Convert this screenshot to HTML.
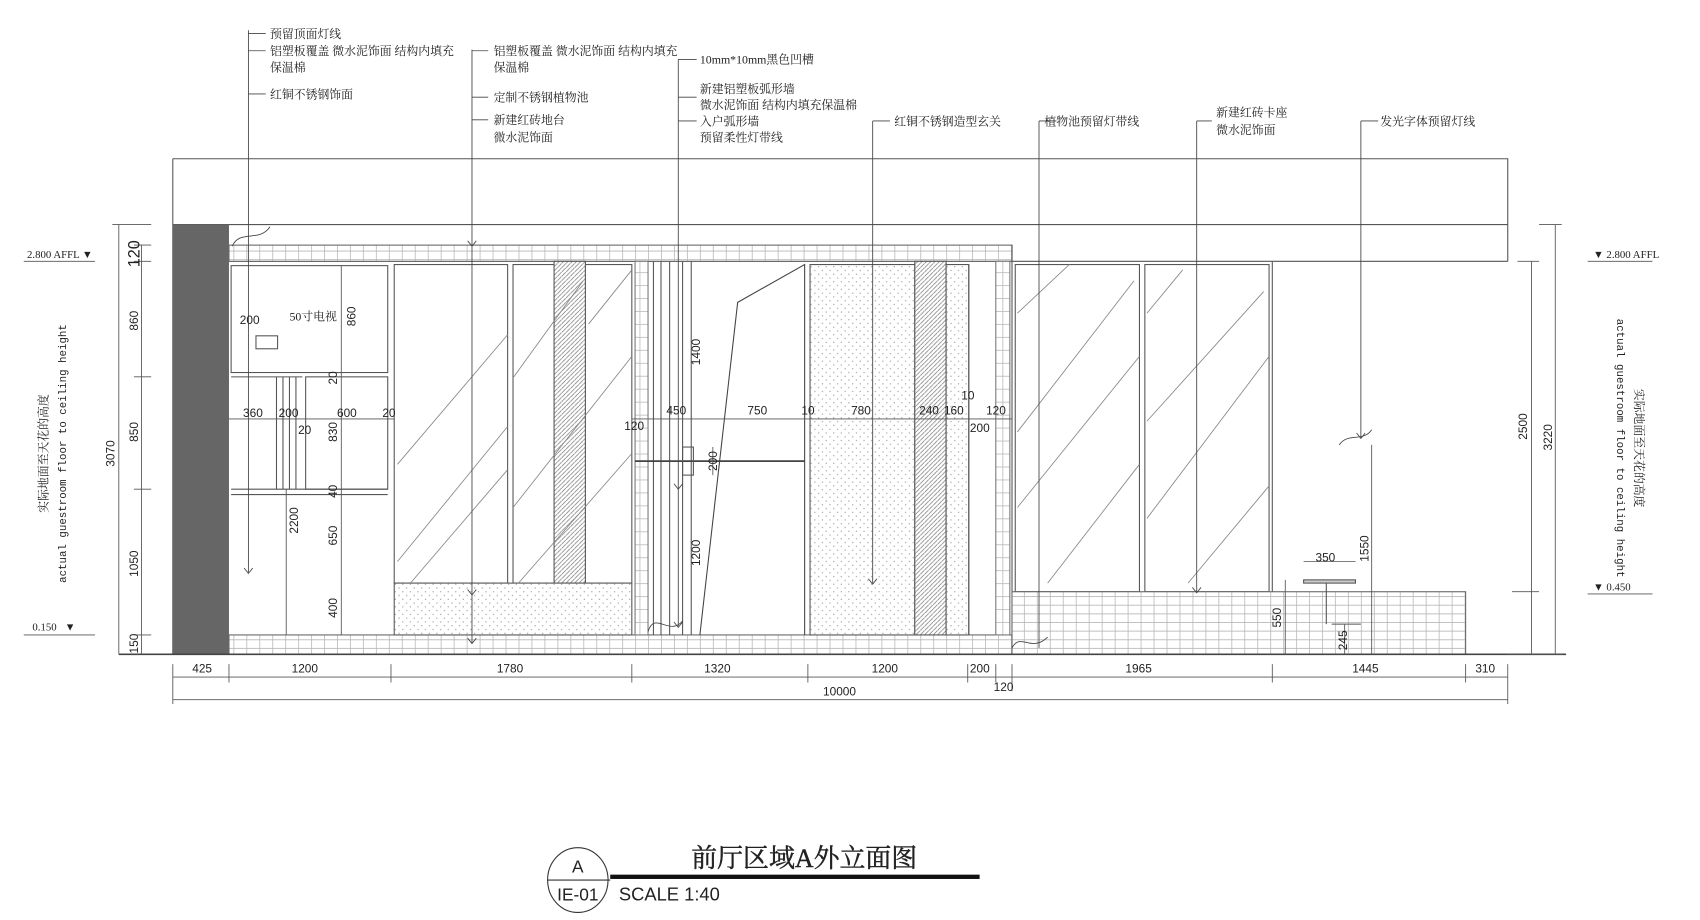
<!DOCTYPE html>
<html><head><meta charset="utf-8"><style>
html,body{margin:0;padding:0;background:#fff;width:1700px;height:920px;overflow:hidden}
svg{display:block}
.t{font-family:"Liberation Serif","Noto Serif CJK SC","Noto Sans CJK SC",serif;font-size:11px;fill:#222}
.d{font-family:"Liberation Sans","DejaVu Sans",sans-serif;font-size:11px;fill:#222}
</style></head><body>
<svg width="1700" height="920" viewBox="0 0 1574 852" preserveAspectRatio="none" xmlns="http://www.w3.org/2000/svg">
<defs>
<pattern id="brick" width="12" height="8" patternUnits="userSpaceOnUse"><rect width="12" height="8" fill="#fff"/><path d="M0 0.5H12M0.5 0V8" stroke="#b5b5b5" stroke-width="0.7" fill="none"/></pattern>
<pattern id="brickv" width="8" height="12" patternUnits="userSpaceOnUse"><rect width="8" height="12" fill="#fff"/><path d="M0 0.5H8M0.5 0V12" stroke="#b5b5b5" stroke-width="0.7" fill="none"/></pattern>
<pattern id="dots" width="7" height="7" patternUnits="userSpaceOnUse"><rect width="7" height="7" fill="#fff"/><circle cx="2" cy="2" r="0.6" fill="#999"/><circle cx="5.5" cy="5.5" r="0.6" fill="#999"/></pattern>
<pattern id="hatch" width="4" height="4" patternUnits="userSpaceOnUse"><rect width="4" height="4" fill="#fff"/><path d="M0 4L4 0" stroke="#777" stroke-width="0.7"/></pattern>
</defs>
<g stroke="#555" stroke-width="1" fill="none">
<path d="M160 147H1396V242M160 147V606M160 208H1396M212 242H1396"/>
</g>
<rect x="160" y="208" width="52" height="398" fill="#666"/>
<rect x="212" y="227" width="725" height="15" fill="url(#brick)" stroke="#666"/>
<rect x="212" y="588" width="725" height="18" fill="url(#brick)" stroke="#666"/>
<g stroke="#555" fill="none" stroke-width="1">
<rect x="214" y="246" width="145" height="99"/>
<rect x="283" y="349" width="76" height="104"/>
<path d="M214 349H280M256 349V453M262 349V453M268 349V453M274 349V453M214 453H359M214 458H359"/>
<rect x="237" y="311" width="20" height="12"/>
<rect x="365" y="245" width="105" height="295"/>
<rect x="475" y="245" width="110" height="295"/>
</g>
<rect x="513" y="242" width="29" height="298" fill="url(#hatch)" stroke="#555"/>
<rect x="365" y="540" width="220" height="48" fill="url(#dots)" stroke="#555"/>
<g stroke="#888" stroke-width="0.8">
<path d="M368 430L470 310M368 520L470 395M380 540L470 435M475 350L540 260M475 470L585 330M480 540L585 420M545 300L585 250"/>
</g>
<rect x="588" y="242" width="12" height="346" fill="url(#brickv)" stroke="#777"/>
<g stroke="#555" fill="none">
<path d="M605 242V588M612 242V588M620 242V588M632 242V588M640 242V588"/>
<path d="M648 588L683 280L745 245V588" stroke="#444"/>
<path d="M588 427H745" stroke="#444" stroke-width="1.6"/>
<rect x="632" y="414" width="10" height="26"/>
</g>
<rect x="750" y="245" width="97" height="343" fill="url(#dots)" stroke="#555"/>
<rect x="847" y="242" width="29" height="346" fill="url(#hatch)" stroke="#555"/>
<rect x="876" y="245" width="21" height="343" fill="url(#dots)" stroke="#555"/>
<rect x="922" y="242" width="13" height="346" fill="url(#brickv)" stroke="#777"/>
<path d="M897 245V588M937 227V606" stroke="#555"/>
<g stroke="#555" fill="none">
<rect x="940" y="245" width="115" height="303"/>
<rect x="1060" y="245" width="115" height="303"/>
<path d="M1178 242V606"/>
</g>
<g stroke="#888" stroke-width="0.8">
<path d="M942 290L990 245M942 400L1050 260M970 540L1055 430M942 470L1055 330M1062 390L1170 270M1062 480L1175 330M1100 540L1175 450M1062 290L1095 250"/>
</g>
<rect x="937" y="548" width="420" height="58" fill="url(#brick)" stroke="#666"/>
<rect x="1207" y="537" width="48" height="3" fill="#ccc" stroke="#555"/>
<path d="M1228 540V578M1233 578H1260" stroke="#555"/>
<path d="M110 606H1450" stroke="#444" stroke-width="1.5"/>
<g stroke="#444" fill="none" stroke-width="0.8">
<path d="M230 28V530M230 31H246M230 47H246M230 87H246"/>
<path d="M437 46V595M437 47H452M437 90H452M437 111H452"/>
<path d="M628 55V580M628 55H645M628 90H645M628 112H645"/>
<path d="M808 112V540M808 112H824"/>
<path d="M962 112V600M962 112H978"/>
<path d="M1108 112V548M1108 112H1122"/>
<path d="M1260 112V405M1260 112H1276"/>
<path d="M226 526L230 531L234 526M433 591L437 596L441 591M624 576L628 581L632 576M804 536L808 541L812 536M1104 544L1108 549L1112 544M1256 401L1260 406L1264 401M433 546L437 551L441 546M624 448L628 453L632 448M433 223L437 228L441 223"/>
<path d="M215 228C222 212 240 225 250 210M1240 412C1248 400 1262 410 1270 398M600 585C606 565 620 590 632 575M937 600C945 585 955 605 970 590"/>
</g>
<g class="t">
<text x="250" y="35">预留顶面灯线</text>
<text x="250" y="51">铝塑板覆盖 微水泥饰面 结构内填充</text>
<text x="250" y="66">保温棉</text>
<text x="250" y="91">红铜不锈钢饰面</text>
<text x="457" y="51">铝塑板覆盖 微水泥饰面 结构内填充</text>
<text x="457" y="66">保温棉</text>
<text x="457" y="94">定制不锈钢植物池</text>
<text x="457" y="115">新建红砖地台</text>
<text x="457" y="131">微水泥饰面</text>
<text x="648" y="59">10mm*10mm黑色凹槽</text>
<text x="648" y="86">新建铝塑板弧形墙</text>
<text x="648" y="101">微水泥饰面 结构内填充保温棉</text>
<text x="648" y="116">入户弧形墙</text>
<text x="648" y="131">预留柔性灯带线</text>
<text x="828" y="116">红铜不锈钢造型玄关</text>
<text x="967" y="116">植物池预留灯带线</text>
<text x="1126" y="108">新建红砖卡座</text>
<text x="1126" y="124">微水泥饰面</text>
<text x="1278" y="116">发光字体预留灯线</text>
<text x="268" y="297">50寸电视</text>
</g>
<g stroke="#555" fill="none" stroke-width="0.8">
<path d="M110 208V606M131 227V606M104 208H140M124 227H140M124 242H140M124 349H140M124 453H140M124 588H140"/>
<path d="M1418 242V606M1440 208V606M1405 242H1425M1425 208H1446M1395 606H1446M1400 548H1425"/>
<path d="M160 615V652M212 615V632M362 615V632M585 615V632M748 615V632M896 615V632M922 615V632M937 615V640M1178 615V632M1357 615V632M1396 615V652"/>
<path d="M160 627H1396M160 648H1396"/>
<path d="M212 388H365M585 388H937M316 246V588M265 453V588M1190 537V606M1245 578V606M1270 412V606M1207 520H1255M660 414V440"/>
<path d="M22 242H88M22 588H88M1470 242H1530M1470 550H1530"/>
</g>
<g class="d">
<text x="178" y="623">425</text><text x="270" y="623">1200</text><text x="460" y="623">1780</text>
<text x="652" y="623">1320</text><text x="807" y="623">1200</text><text x="898" y="623">200</text>
<text x="1042" y="623">1965</text><text x="1252" y="623">1445</text><text x="1366" y="623">310</text>
<text x="762" y="644">10000</text><text x="920" y="640">120</text>
<text x="222" y="300">200</text>
<text x="225" y="386">360</text><text x="258" y="386">200</text><text x="312" y="386">600</text><text x="354" y="386">20</text>
<text x="276" y="402">20</text>
<text x="617" y="384">450</text><text x="692" y="384">750</text><text x="742" y="384">10</text><text x="788" y="384">780</text>
<text x="851" y="384">240</text><text x="874" y="384">160</text><text x="890" y="370">10</text><text x="913" y="384">120</text>
<text x="898" y="400">200</text><text x="578" y="398">120</text>
<text x="1218" y="520">350</text>
<text x="1475" y="239" style="font-family:'Liberation Serif';font-size:10px">▼ 2.800 AFFL</text>
<text x="1475" y="547" style="font-family:'Liberation Serif';font-size:10px">▼ 0.450</text>
<text x="25" y="239" style="font-family:'Liberation Serif';font-size:10px">2.800 AFFL ▼</text>
<text x="30" y="584" style="font-family:'Liberation Serif';font-size:10px">0.150 &#160;&#160;▼</text>
</g>
<g class="d" text-anchor="middle">
<text transform="translate(106,420) rotate(-90)">3070</text>
<text transform="translate(129,235) rotate(-90)" style="font-size:15px">120</text>
<text transform="translate(128,297) rotate(-90)">860</text>
<text transform="translate(128,400) rotate(-90)">850</text>
<text transform="translate(128,522) rotate(-90)">1050</text>
<text transform="translate(128,596) rotate(-90)">150</text>
<text transform="translate(329,293) rotate(-90)">860</text>
<text transform="translate(312,350) rotate(-90)">20</text>
<text transform="translate(312,400) rotate(-90)">830</text>
<text transform="translate(312,455) rotate(-90)">40</text>
<text transform="translate(312,496) rotate(-90)">650</text>
<text transform="translate(312,563) rotate(-90)">400</text>
<text transform="translate(276,482) rotate(-90)">2200</text>
<text transform="translate(648,326) rotate(-90)">1400</text>
<text transform="translate(648,512) rotate(-90)">1200</text>
<text transform="translate(664,427) rotate(-90)">200</text>
<text transform="translate(1414,395) rotate(-90)">2500</text>
<text transform="translate(1437,405) rotate(-90)">3220</text>
<text transform="translate(1186,572) rotate(-90)">550</text>
<text transform="translate(1247,593) rotate(-90)">245</text>
<text transform="translate(1267,508) rotate(-90)">1550</text>
</g>
<g class="t" text-anchor="middle">
<text transform="translate(44,420) rotate(-90)">实际地面至天花的高度</text>
<text transform="translate(61,420) rotate(-90)" style="font-family:'Liberation Mono';font-size:10px">actual guestroom floor to ceiling height</text>
<text transform="translate(1497,415) rotate(90)" style="font-family:'Liberation Mono';font-size:10px">actual guestroom floor to ceiling height</text>
<text transform="translate(1514,415) rotate(90)">实际地面至天花的高度</text>
</g>
<ellipse cx="535" cy="815" rx="28" ry="30" fill="#fff" stroke="#333"/>
<path d="M507 815H565" stroke="#333"/>
<rect x="565" y="810" width="342" height="4" fill="#111"/>
<text x="535" y="808" text-anchor="middle" class="d" style="font-size:16px">A</text>
<text x="535" y="834" text-anchor="middle" class="d" style="font-size:16px">IE-01</text>
<text x="573" y="834" class="d" style="font-size:17px">SCALE 1:40</text>
<text x="640" y="803" class="t" style="font-size:24px;stroke:#222;stroke-width:0.4">前厅区域A外立面图</text>
</svg>
</body></html>
